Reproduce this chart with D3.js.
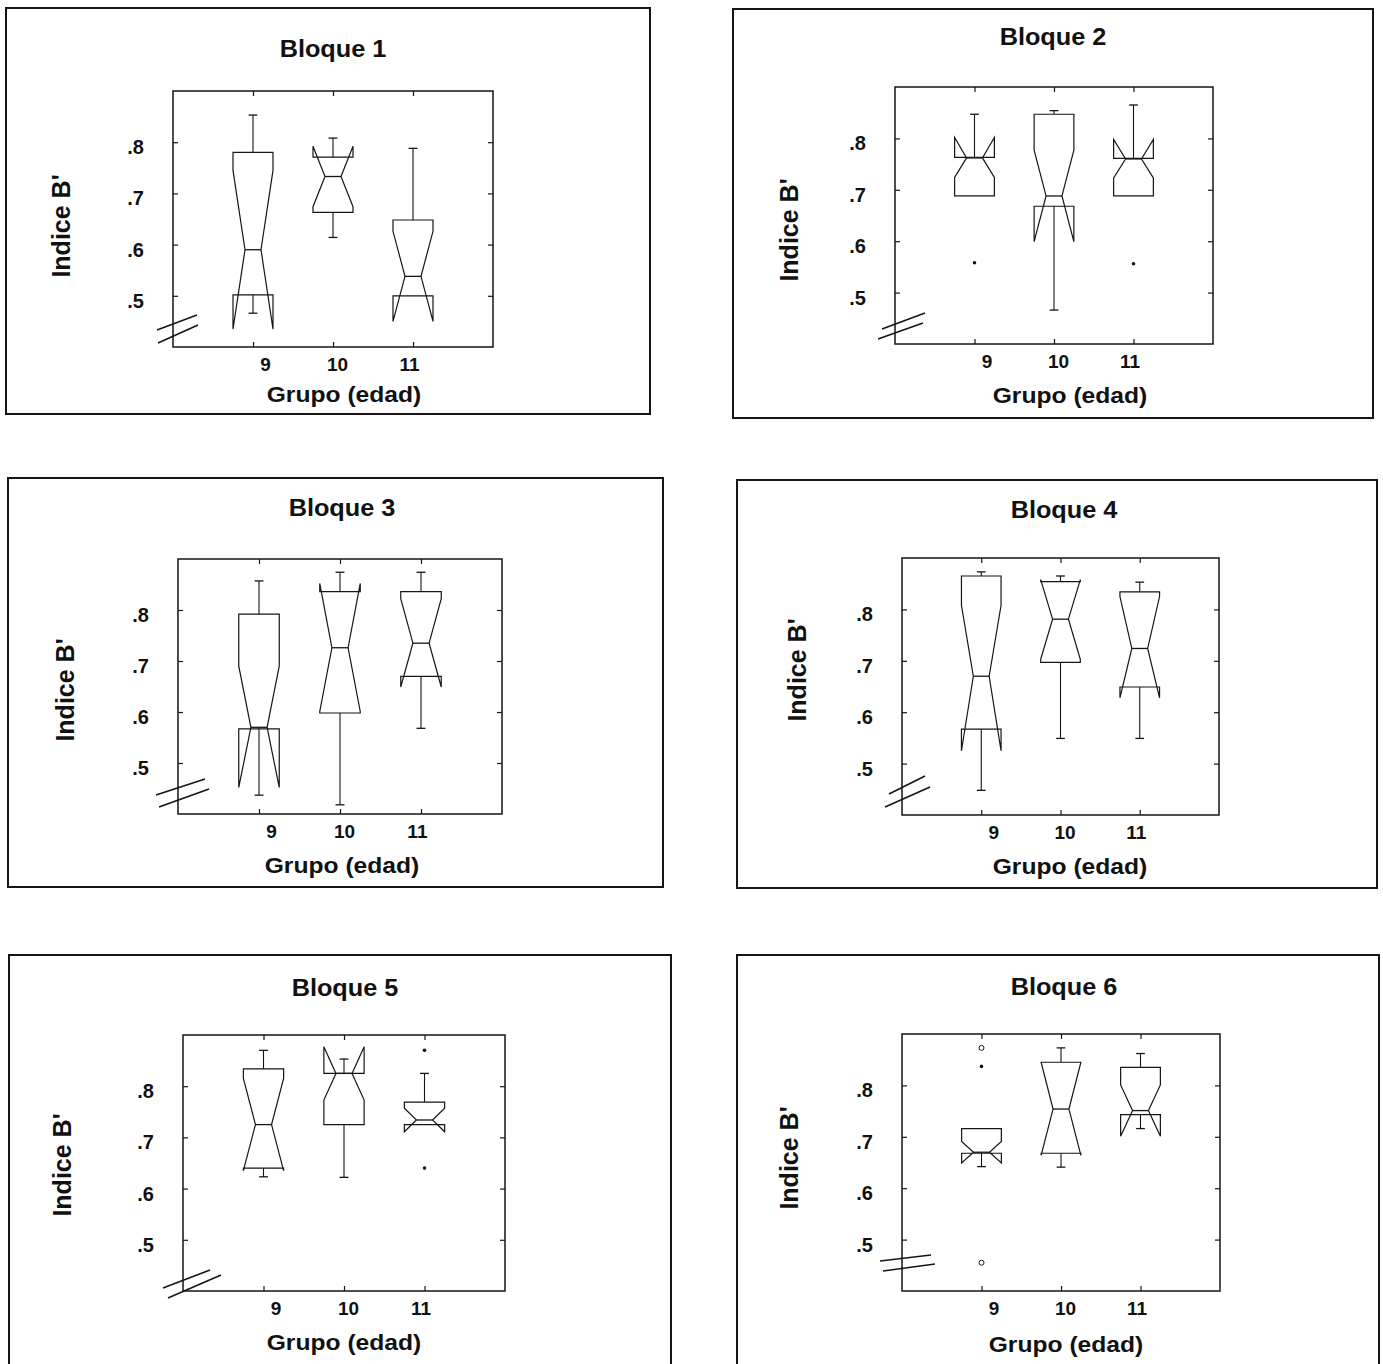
<!DOCTYPE html>
<html>
<head>
<meta charset="utf-8">
<script src="https://cdn.jsdelivr.net/npm/d3@7"></script>
<style>
  body { margin: 0; background: #fff; }
  svg { display: block; background: #fff; }
  text { font-family: "Liberation Sans", Arial, Helvetica, sans-serif; font-weight: bold; fill: #111; }
</style>
</head>
<body>
<svg id="chart" width="1383" height="1364"></svg>
<script>
// ---- data -------------------------------------------------------------
const blockTitles = ["Bloque 1", "Bloque 2", "Bloque 3", "Bloque 4", "Bloque 5", "Bloque 6"];
const groups = [9, 10, 11];
const yTickValues = [0.5, 0.6, 0.7, 0.8];
const yTickLabels = [".5", ".6", ".7", ".8"];
const xAxisTitle = "Grupo (edad)";
const yAxisTitle = "Indice B'";

// notched box statistics, one row per block, one value per age group (9, 10, 11)
const whiskerHigh = [
  [0.853, 0.808, 0.788],
  [0.847, 0.854, 0.865],
  [0.857, 0.874, 0.874],
  [0.873, 0.865, 0.853],
  [0.870, 0.853, 0.825],
  [0.716, 0.873, 0.862]
];
const q3 = [
  [0.780, 0.771, 0.648],
  [0.763, 0.847, 0.761],
  [0.792, 0.836, 0.836],
  [0.865, 0.854, 0.834],
  [0.834, 0.825, 0.769],
  [0.716, 0.845, 0.835]
];
const notchHigh = [
  [0.745, 0.792, 0.626],
  [0.802, 0.777, 0.798],
  [0.690, 0.852, 0.822],
  [0.808, 0.858, 0.825],
  [0.815, 0.877, 0.757],
  [0.691, 0.845, 0.801]
];
const median = [
  [0.590, 0.733, 0.538],
  [0.762, 0.688, 0.760],
  [0.570, 0.726, 0.735],
  [0.670, 0.781, 0.724],
  [0.725, 0.825, 0.734],
  [0.670, 0.754, 0.751]
];
const notchLow = [
  [0.435, 0.674, 0.450],
  [0.724, 0.599, 0.723],
  [0.452, 0.601, 0.649],
  [0.525, 0.703, 0.628],
  [0.635, 0.773, 0.711],
  [0.649, 0.664, 0.701]
];
const q1 = [
  [0.502, 0.663, 0.500],
  [0.688, 0.668, 0.688],
  [0.567, 0.598, 0.670],
  [0.567, 0.697, 0.649],
  [0.640, 0.725, 0.725],
  [0.668, 0.668, 0.743]
];
const whiskerLow = [
  [0.466, 0.614, 0.500],
  [0.688, 0.466, 0.688],
  [0.437, 0.418, 0.568],
  [0.448, 0.549, 0.549],
  [0.623, 0.622, 0.725],
  [0.642, 0.641, 0.716]
];
// outside values: [block index, group, value]
const outsideValues = [
  [1, 9, 0.558], [1, 11, 0.556],
  [4, 11, 0.870], [4, 11, 0.640],
  [5, 9, 0.837]
];
// far outside values: [block index, group, value]
const farOutsideValues = [
  [5, 9, 0.873], [5, 9, 0.455]
];

// ---- layout -------------------------------------------------------------
const panels = [
  { frame: [6, 8, 650, 414],     plot: [173, 91, 493, 347],    title: [333, 57],    xlab: [344, 402],   ylab: [61, 226],
    brk: [[-16, -17, 24, -32], [-15, -4, 25, -22]] },
  { frame: [733, 9, 1373, 418],  plot: [895, 87, 1213, 344],   title: [1053, 45],   xlab: [1070, 403],  ylab: [789, 230],
    brk: [[-13, -15, 30, -31], [-17, -5, 28, -21]] },
  { frame: [8, 478, 663, 887],   plot: [178, 559, 502, 814],   title: [342, 516],   xlab: [342, 873],   ylab: [65, 690],
    brk: [[-22, -19, 27, -35], [-19, -7, 31, -25]] },
  { frame: [737, 480, 1377, 888], plot: [902, 558, 1219, 815], title: [1064, 518],  xlab: [1070, 874],  ylab: [797, 670],
    brk: [[-13, -21, 23, -39], [-17, -8, 28, -28]] },
  { frame: [9, 955, 671, 1368],  plot: [183, 1035, 505, 1291], title: [345, 996],   xlab: [344, 1350],  ylab: [62, 1165],
    brk: [[-20, -3, 27, -21], [-15, 7, 38, -16]] },
  { frame: [737, 955, 1379, 1368], plot: [902, 1034, 1220, 1291], title: [1064, 995], xlab: [1066, 1352], ylab: [789, 1158],
    brk: [[-22, -30, 29, -36], [-19, -20, 33, -27]] }
];

const boxHalf = 0.25;     // half box width, in group units
const medianHalf = 0.1;   // half width of the notch waist
const capHalf = 0.055;    // half width of whisker caps
const ink = "#151515";
const fontStack = "'Liberation Sans', Arial, sans-serif";

const svg = d3.select("#chart");
svg.append("rect").attr("width", 1383).attr("height", 1364).attr("fill", "#fff");

panels.forEach((p, bi) => {
  const g = svg.append("g").attr("class", "panel");
  const [l, t, r, b] = p.plot;
  const x = d3.scaleLinear().domain([8, 12]).range([l, r]);
  const y = d3.scaleLinear().domain([0.4, 0.9]).range([b, t]);

  // outer panel frame
  g.append("rect")
    .attr("x", p.frame[0]).attr("y", p.frame[1])
    .attr("width", p.frame[2] - p.frame[0]).attr("height", p.frame[3] - p.frame[1])
    .attr("fill", "none").attr("stroke", ink).attr("stroke-width", 2);

  // plot frame
  g.append("rect")
    .attr("x", l).attr("y", t).attr("width", r - l).attr("height", b - t)
    .attr("fill", "none").attr("stroke", ink).attr("stroke-width", 1.5);

  // left axis with labels, ticks pointing inward
  g.append("g")
    .attr("transform", `translate(${l},0)`)
    .call(d3.axisLeft(y).tickValues(yTickValues)
      .tickFormat((d, k) => yTickLabels[k])
      .tickSizeInner(-5).tickSizeOuter(0).tickPadding(29))
    .call(a => a.select(".domain").remove())
    .call(a => a.selectAll("line").attr("stroke", ink).attr("stroke-width", 1.2))
    .call(a => a.selectAll("text")
      .attr("y", 5)
      .style("font-size", "20px")
      .style("font-family", fontStack)
      .style("font-weight", "bold")
      .attr("fill", ink));

  // right axis ticks
  g.append("g")
    .attr("transform", `translate(${r},0)`)
    .call(d3.axisRight(y).tickValues(yTickValues).tickFormat("").tickSizeInner(-5).tickSizeOuter(0))
    .call(a => a.select(".domain").remove())
    .call(a => a.selectAll("line").attr("stroke", ink).attr("stroke-width", 1.2));

  // bottom axis with group labels
  g.append("g")
    .attr("transform", `translate(0,${b})`)
    .call(d3.axisBottom(x).tickValues(groups).tickFormat(d3.format("d"))
      .tickSizeInner(-5).tickSizeOuter(0).tickPadding(11))
    .call(a => a.select(".domain").remove())
    .call(a => a.selectAll("line").attr("stroke", ink).attr("stroke-width", 1.2))
    .call(a => a.selectAll("text")
      .attr("x", d => (x(d) - x(10)) * -0.1 + 4)
      .style("font-size", "19px")
      .style("font-family", fontStack)
      .style("font-weight", "bold")
      .attr("fill", ink));

  // top axis ticks
  g.append("g")
    .attr("transform", `translate(0,${t})`)
    .call(d3.axisTop(x).tickValues(groups).tickFormat("").tickSizeInner(-5).tickSizeOuter(0))
    .call(a => a.select(".domain").remove())
    .call(a => a.selectAll("line").attr("stroke", ink).attr("stroke-width", 1.2));

  // axis break marks at the lower left corner
  p.brk.forEach(s => {
    g.append("line")
      .attr("x1", l + s[0]).attr("y1", b + s[1])
      .attr("x2", l + s[2]).attr("y2", b + s[3])
      .attr("stroke", ink).attr("stroke-width", 1.6);
  });

  // notched boxes
  const line = d3.line();
  groups.forEach((grp, k) => {
    const cx = x(grp);
    const L = x(grp - boxHalf), R = x(grp + boxHalf);
    const mL = x(grp - medianHalf), mR = x(grp + medianHalf);
    const yq3 = y(q3[bi][k]), yq1 = y(q1[bi][k]);
    const ynh = y(notchHigh[bi][k]), ynl = y(notchLow[bi][k]), ym = y(median[bi][k]);

    const outline = [
      [L, yq3], [L, ynh], [mL, ym], [L, ynl], [L, yq1],
      [R, yq1], [R, ynl], [mR, ym], [R, ynh], [R, yq3]
    ];
    g.append("path")
      .attr("d", line(outline) + "Z")
      .attr("fill", "none").attr("stroke", ink).attr("stroke-width", 1.2)
      .attr("stroke-linejoin", "miter");

    g.append("line")
      .attr("x1", mL).attr("x2", mR).attr("y1", ym).attr("y2", ym)
      .attr("stroke", ink).attr("stroke-width", 1.3);

    // upper whisker
    if (whiskerHigh[bi][k] > q3[bi][k]) {
      const yw = y(whiskerHigh[bi][k]);
      g.append("line").attr("x1", cx).attr("x2", cx).attr("y1", yq3).attr("y2", yw)
        .attr("stroke", ink).attr("stroke-width", 1.1);
      g.append("line").attr("x1", x(grp - capHalf)).attr("x2", x(grp + capHalf)).attr("y1", yw).attr("y2", yw)
        .attr("stroke", ink).attr("stroke-width", 1.3);
    }
    // lower whisker
    if (whiskerLow[bi][k] < q1[bi][k]) {
      const yw = y(whiskerLow[bi][k]);
      g.append("line").attr("x1", cx).attr("x2", cx).attr("y1", yq1).attr("y2", yw)
        .attr("stroke", ink).attr("stroke-width", 1.1);
      g.append("line").attr("x1", x(grp - capHalf)).attr("x2", x(grp + capHalf)).attr("y1", yw).attr("y2", yw)
        .attr("stroke", ink).attr("stroke-width", 1.3);
    }
  });

  // outside values
  outsideValues.filter(o => o[0] === bi).forEach(o => {
    g.append("circle").attr("cx", x(o[1])).attr("cy", y(o[2])).attr("r", 1.8).attr("fill", ink);
  });
  farOutsideValues.filter(o => o[0] === bi).forEach(o => {
    g.append("circle").attr("cx", x(o[1])).attr("cy", y(o[2])).attr("r", 2.5)
      .attr("fill", "none").attr("stroke", ink).attr("stroke-width", 1);
  });

  // titles
  g.append("text")
    .attr("transform", `translate(${p.title[0]},${p.title[1]}) scale(1.1,1)`)
    .attr("text-anchor", "middle").style("font-size", "23px")
    .text(blockTitles[bi]);

  g.append("text")
    .attr("transform", `translate(${p.xlab[0]},${p.xlab[1]}) scale(1.12,1)`)
    .attr("text-anchor", "middle").style("font-size", "22px")
    .text(xAxisTitle);

  g.append("text")
    .attr("transform", `translate(${p.ylab[0]},${p.ylab[1]}) rotate(-90)`)
    .attr("text-anchor", "middle").attr("dy", "0.36em").style("font-size", "25px")
    .text(yAxisTitle);
});
</script>
</body>
</html>
